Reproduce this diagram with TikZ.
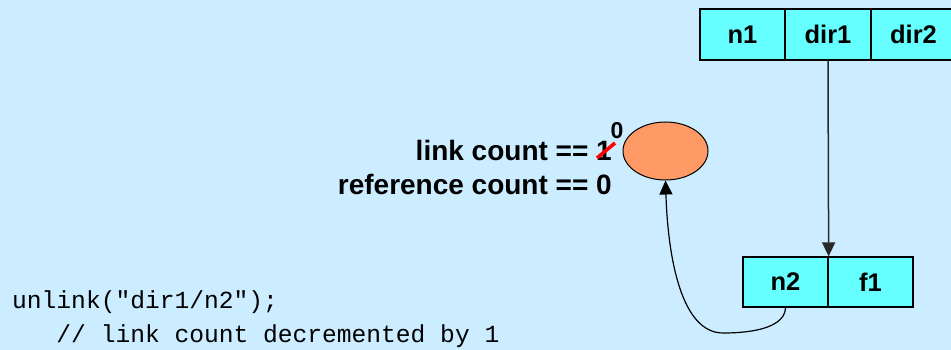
\documentclass[tikz,border=0pt]{standalone}
\usepackage{fontspec}
\setmainfont{Liberation Sans}
\setmonofont{Liberation Mono}
\usetikzlibrary{shapes.geometric,arrows.meta}
\definecolor{bg}{RGB}{204,236,255}
\definecolor{cell}{RGB}{102,255,255}
\definecolor{blob}{RGB}{255,153,102}
\definecolor{edge}{RGB}{40,40,40}
\tikzset{
  cellbox/.style={draw=black,line width=1.3pt,fill=cell,minimum height=51pt,inner sep=0pt,
    font=\fontsize{25.5}{30}\selectfont\bfseries},
  lbl/.style={inner sep=0pt,font=\fontsize{28}{33}\selectfont\bfseries},
  code/.style={inner sep=0pt,font=\fontsize{24.6}{30}\selectfont\ttfamily},
  tip/.style={-{Triangle[width=13pt,length=14pt]}},
}
\begin{document}
\begin{tikzpicture}[x=1pt,y=-1pt]
\useasboundingbox (0,0) rectangle (951,350);
\clip (0,0) rectangle (951,350);
\fill[bg] (0,0) rectangle (951,350);
% top box
\node[cellbox,minimum width=85pt] (n1) at (742.5,34.5) {n1};
\node[cellbox,minimum width=86pt] (dir1) at (828,34.5) {dir1};
\node[cellbox,minimum width=85pt] (dir2) at (913.5,34.5) {dir2};
% bottom box
\node[cellbox,minimum width=85pt,minimum height=50pt] (n2) at (785.5,282) {n2};
\node[cellbox,minimum width=85pt,minimum height=50pt] (f1) at (870.5,282) {f1};
% inode
\node[ellipse,draw=black,line width=1pt,fill=blob,minimum width=85pt,minimum height=58pt,inner sep=0pt] (ino) at (665.5,151) {};
% labels
\node[lbl,anchor=base east] (lc) at (612,161) {link count == 1};
\node[lbl,anchor=base east] (rc) at (612,194) {reference count == 0};
\node[inner sep=0pt,font=\fontsize{23}{26}\selectfont\bfseries] (zero) at (617,130.5) {0};
\coordinate (s1) at (597,158);
\coordinate (s2) at (615,143);
\draw[red,line width=3.5pt] (s1) -- (s2);
% code
\node[code,anchor=base west] (c1) at (12,308) {unlink("dir1/n2");};
\node[code,anchor=base west] (c2) at (12,342) {\ \ \ // link count decremented by 1};
% connectors
\draw[tip,edge,line width=1.5pt] (dir1.south) -- (n2.north east);
\draw[tip,black,line width=1.2pt] (n2.south) .. controls (785,325) and (760,333) .. (723,333)
  .. controls (682,333) and (668,260) .. (ino.south);
\end{tikzpicture}
\end{document}
